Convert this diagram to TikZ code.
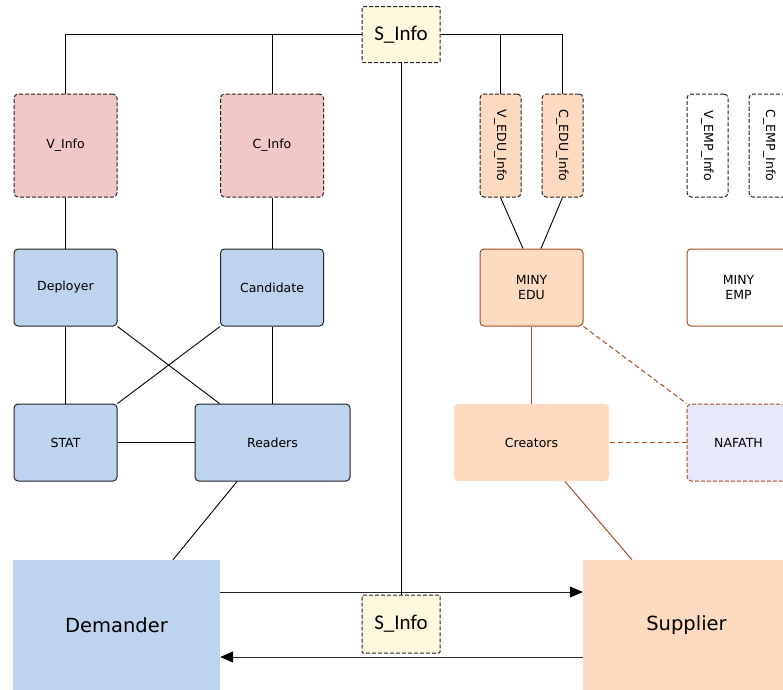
\documentclass[tikz,border=0pt]{standalone}
\usepackage{fontspec}
\setmainfont{DejaVu Sans}
\newfontfamily\infofont{Carlito}
\usetikzlibrary{arrows.meta}

\definecolor{boxblue}{HTML}{BED3ED}
\definecolor{boxpeach}{HTML}{FDDAC0}
\definecolor{boxpink}{HTML}{F0C8C8}
\definecolor{boxyellow}{HTML}{FFF8DE}
\definecolor{boxlav}{HTML}{E8E8FB}
\definecolor{edgedark}{HTML}{222222}
\definecolor{brownline}{HTML}{A54E22}

\tikzset{
  base/.style={inner sep=0pt, rounded corners=4pt, align=center,
    font=\fontsize{12.5}{14.5}\selectfont, line width=1pt},
  sq/.style={base, minimum width=103pt, minimum height=77pt},
  infobox/.style={base, draw=edgedark, dashed, dash pattern=on 4pt off 2pt,
    minimum width=103pt, minimum height=103pt, fill=boxpink},
  vinfobox/.style={base, draw=edgedark, dashed, dash pattern=on 4pt off 2pt,
    minimum width=41pt, minimum height=103pt},
  vlabel/.style={rotate=-90, inner sep=0pt, font=\fontsize{12.5}{14.5}\selectfont},
  sinfobox/.style={base, rounded corners=1pt, draw=edgedark, dashed,
    dash pattern=on 4pt off 2pt, fill=boxyellow,
    minimum width=78pt, minimum height=56pt, font=\infofont\fontsize{21}{24}\selectfont},
  bluebox/.style={sq, fill=boxblue, draw=edgedark},
  bigbox/.style={inner sep=0pt, minimum width=207pt, minimum height=130pt,
    font=\fontsize{19.5}{22}\selectfont},
  link/.style={line width=0.9pt, draw=black},
  brownlink/.style={line width=1pt, draw=brownline},
  dashlink/.style={brownlink, dashed, dash pattern=on 5pt off 3pt},
  flow/.style={line width=1pt, draw=black!85, -{Triangle[length=13pt,width=11pt,color=black]}}
}

\begin{document}
\begin{tikzpicture}[x=1pt, y=-1pt]
\clip (0,0) rectangle (783,689);
\fill[white] (0,0) rectangle (783,689);

% information items
\node[sinfobox] (sinfo) at (401,34.5) {S\_Info};
\node[infobox] (vinfo) at (65.5,145.5) {V\_Info};
\node[infobox] (cinfo) at (272,145.5) {C\_Info};
\node[vinfobox, fill=boxpeach] (vedu) at (500.5,145.5) {};
\node[vlabel] (vedut) at (vedu.center) {V\_EDU\_Info};
\node[vinfobox, fill=boxpeach] (cedu) at (562.5,145.5) {};
\node[vlabel] (cedut) at (cedu.center) {C\_EDU\_Info};
\node[vinfobox, fill=white] (vemp) at (707.5,145.5) {};
\node[vlabel] (vempt) at (vemp.center) {V\_EMP\_Info};
\node[vinfobox, fill=white] (cemp) at (769.5,145.5) {};
\node[vlabel] (cempt) at (cemp.center) {C\_EMP\_Info};

% demand side
\node[bluebox] (deployer) at (65.5,287.5) {Deployer};
\node[bluebox] (candidate) at (272,287.5) {Candidate};
\node[bluebox] (stat) at (65.5,442.5) {STAT};
\node[bluebox, minimum width=155pt] (readers) at (272.5,442.5) {Readers};

% supply side
\node[sq, fill=boxpeach, draw=brownline] (minyedu) at (531.5,287.5) {MINY\\EDU};
\node[sq, fill=white, draw=brownline] (minyemp) at (738.5,287.5) {MINY\\EMP};
\node[sq, minimum width=155pt, fill=boxpeach] (creators) at (531.5,442.5) {Creators};
\node[sq, fill=boxlav, draw=brownline, dashed, dash pattern=on 4pt off 2pt] (nafath) at (738.5,442.5) {NAFATH};

% market parties
\node[bigbox, fill=boxblue] (demander) at (116.5,625) {Demander};
\node[bigbox, fill=boxpeach] (supplier) at (686.5,625) {Supplier};

% shared information tree
\draw[link] (sinfo.west) -| (vinfo.north);
\draw[link] (cinfo.north) -- (cinfo.north |- sinfo.west);
\draw[link] (sinfo.east) -| (cedu.north);
\draw[link] (vedu.north) -- (vedu.north |- sinfo.east);

% demand side links
\draw[link] (vinfo.south) -- (deployer.north);
\draw[link] (cinfo.south) -- (candidate.north);
\draw[link] (deployer.south) -- (stat.north);
\draw[link] (candidate.south) -- (candidate.south |- readers.north);
\draw[link] (deployer.south east) -- ([xshift=25pt]readers.north west);
\draw[link] (stat.north east) -- (candidate.south west);
\draw[link] (stat.east) -- (readers.west);
\draw[link] ([xshift=-35.5pt]readers.south) -- ([xshift=56.5pt]demander.north);

% supply side links
\draw[link] (vedu.south) -- ([xshift=-8.5pt]minyedu.north);
\draw[link] (cedu.south) -- ([xshift=9.5pt]minyedu.north);
\draw[brownlink] (minyedu.south) -- (creators.north);
\draw[dashlink] (minyedu.south east) -- (nafath.north west);
\draw[dashlink] (creators.east) -- (nafath.west);
\draw[brownlink] ([xshift=33.5pt]creators.south) -- ([xshift=-54.5pt]supplier.north);

% exchange between the parties
\draw[flow] ([yshift=33pt]demander.east) -- ([yshift=33pt]supplier.west);
\draw[flow] ([yshift=-32pt]supplier.west) -- ([yshift=-32pt]demander.east);
\node[sinfobox, minimum height=58pt] (sinfob) at (401,624) {S\_Info};
\draw[link] (sinfo.south) -- (sinfob.north);
\end{tikzpicture}
\end{document}
